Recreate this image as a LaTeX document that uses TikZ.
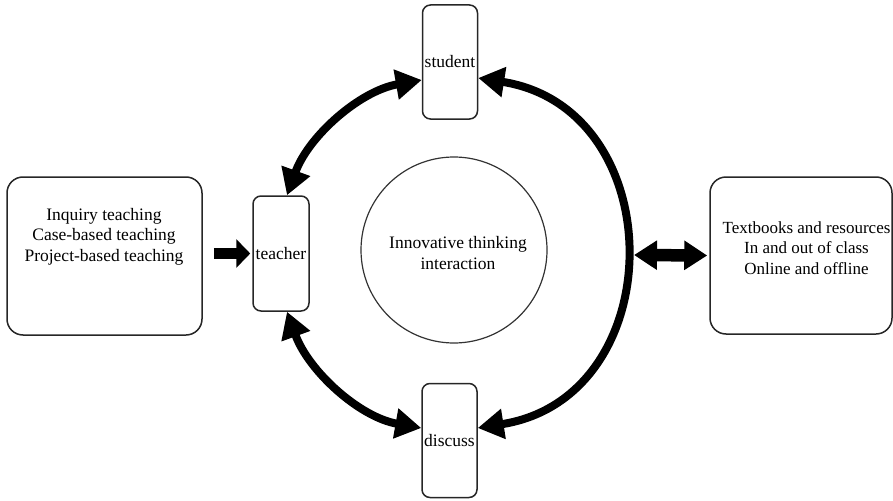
\documentclass[tikz,border=0pt]{standalone}
\usepackage{fontspec}
\setmainfont{Liberation Serif}
\usetikzlibrary{arrows.meta}
\begin{document}
\begin{tikzpicture}[x=1pt,y=1pt,
  every node/.style={font=\fontsize{17.5}{20.5}\selectfont, text=black},
  roundbox/.style={draw=black!85, line width=1.5pt, rounded corners=16pt, inner sep=0pt},
  tallbox/.style={draw=black!85, line width=1.5pt, rounded corners=8pt, inner sep=0pt, minimum width=55pt, minimum height=114pt},
  corecircle/.style={draw=black!80, line width=1.2pt, circle, minimum size=186pt, inner sep=0pt},
  bigarc/.style={line width=8pt, {Triangle[length=26pt,width=29pt]}-{Triangle[length=26pt,width=29pt]}},
  blockarrow/.style={line width=11pt, -{Triangle[length=14pt,width=28pt]}},
  dblarrow/.style={line width=12.5pt, {Triangle[length=23pt,width=28pt]}-{Triangle[length=23pt,width=28pt]}}
]
\useasboundingbox (0,0) rectangle (893,-500);

\node[tallbox] (student) at (450,-62) {student};
\node[tallbox] (discuss) at (449.5,-440.5) {discuss};
\node[tallbox, minimum width=56pt, minimum height=115pt] (teacher) at (281,-253.5) {teacher};
\node[corecircle] (core) at (454,-250) {};
\node[align=center] (coretext) at (458,-253) {Innovative thinking\\interaction};

\node[roundbox, minimum width=195pt, minimum height=158pt] (methods) at (104.5,-256) {};
\node[align=center] (methodstext) at (104,-236.5) {Inquiry teaching\\Case-based teaching\\Project-based teaching};

\node[roundbox, minimum width=182pt, minimum height=157pt] (resources) at (801,-255.5) {};
\node[align=center, font=\fontsize{17}{20.5}\selectfont] (resourcestext) at (806.5,-248) {Textbooks and resources\\In and out of class\\Online and offline};

\coordinate (arcedge) at (634,-255);

\draw[bigarc] ([yshift=-18pt]student.west) to[out=190, in=70, looseness=0.91] ([xshift=6pt]teacher.north);
\draw[bigarc] ([xshift=6pt]teacher.south) to[out=290, in=170, looseness=0.91] ([yshift=12.5pt]discuss.west);
\draw[bigarc] ([yshift=-16pt]student.east) to[out=-9, in=9, looseness=1.44] ([yshift=12.5pt]discuss.east);

\draw[blockarrow, shorten <=11pt, shorten >=2pt] (methods.east |- teacher.west) -- (teacher.west);
\draw[dblarrow, shorten >=2pt] (arcedge) -- (resources.west);
\end{tikzpicture}
\end{document}
